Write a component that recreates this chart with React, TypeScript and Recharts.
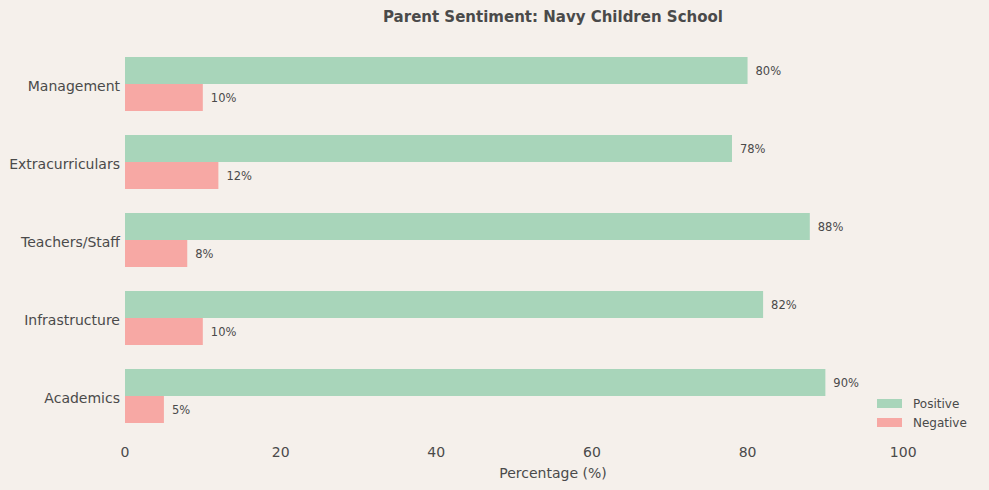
import * as React from 'react';
import { Bar, BarChart, LabelList, Legend, XAxis, YAxis } from 'recharts';

const categories = ['Management', 'Extracurriculars', 'Teachers/Staff', 'Infrastructure', 'Academics'];
const positive = [80, 78, 88, 82, 90];
const negative = [10, 12, 8, 10, 5];
const xTicks = [0, 20, 40, 60, 80, 100];

const data = categories.map((name, i) => ({ name, positive: positive[i], negative: negative[i] }));

const bg = '#f5f0eb';
const text = '#4a4a4a';
const green = '#a8d5ba';
const pink = '#f7a8a4';
const font = '"DejaVu Sans", sans-serif';

const legendItems = [
  { label: 'Positive', color: green },
  { label: 'Negative', color: pink },
];

function LegendBox() {
  return (
    <div style={{ fontFamily: font, fontSize: 12, color: text }}>
      {legendItems.map((it) => (
        <div key={it.label} style={{ display: 'flex', alignItems: 'center', height: 19 }}>
          <span style={{ width: 25, height: 9, background: it.color, marginRight: 11 }} />
          <span>{it.label}</span>
        </div>
      ))}
    </div>
  );
}

export default function App() {
  return (
    <div style={{ position: 'absolute', left: 0, top: 0, width: 989, height: 490, background: bg, fontFamily: font }}>
      <div
        style={{
          position: 'absolute',
          left: 125,
          width: 856,
          top: 8,
          textAlign: 'center',
          fontWeight: 'bold',
          fontSize: 15,
          color: text,
        }}
      >
        Parent Sentiment: Navy Children School
      </div>
      <BarChart
        width={989}
        height={490}
        data={data}
        layout="vertical"
        margin={{ top: 45, right: 8, bottom: 10, left: 0 }}
        barCategoryGap={12}
        barGap={0}
      >
        <XAxis
          type="number"
          domain={[0, 110]}
          ticks={xTicks}
          axisLine={false}
          tickLine={false}
          tickSize={0}
          tickMargin={12}
          height={45}
          tick={{ fontSize: 14, fill: text, fontFamily: font }}
          label={{ value: 'Percentage (%)', position: 'insideBottom', offset: 2, fontSize: 14, fill: text, fontFamily: font }}
        />
        <YAxis
          type="category"
          dataKey="name"
          width={125}
          axisLine={false}
          tickLine={false}
          tickSize={0}
          tickMargin={5}
          tick={{ fontSize: 14, fill: text, fontFamily: font, dy: 2 }}
        />
        <Legend
          layout="vertical"
          align="center"
          verticalAlign="middle"
          content={() => <LegendBox />}
          wrapperStyle={{ left: 877, top: 394, width: 'auto' }}
        />
        <Bar dataKey="positive" name="Positive" fill={green} isAnimationActive={false}>
          <LabelList dataKey="positive" position="right" offset={8} formatter={(v: unknown) => `${v}%`} style={{ fontSize: 11.5, fill: text, fontFamily: font }} />
        </Bar>
        <Bar dataKey="negative" name="Negative" fill={pink} isAnimationActive={false}>
          <LabelList dataKey="negative" position="right" offset={8} formatter={(v: unknown) => `${v}%`} style={{ fontSize: 11.5, fill: text, fontFamily: font }} />
        </Bar>
      </BarChart>
    </div>
  );
}
